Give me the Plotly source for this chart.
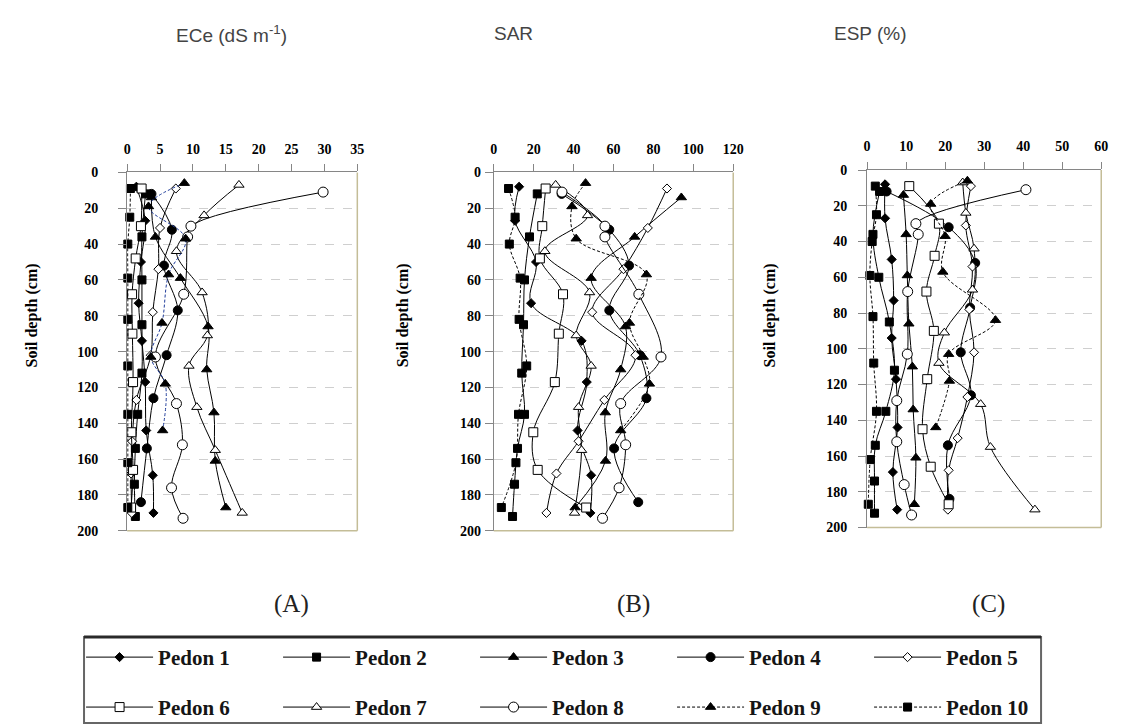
import plotly.graph_objects as go

# ---------------- data ----------------
pedon_names = ["Pedon 1", "Pedon 2", "Pedon 3", "Pedon 4", "Pedon 5",
               "Pedon 6", "Pedon 7", "Pedon 8", "Pedon 9", "Pedon 10"]

depth_p1 = [8, 27, 50, 73, 94, 117, 144, 169, 190]
depth_p2 = [12, 36, 60, 85, 112, 135, 154, 174, 192]
depth_p3 = [14, 36, 59, 86, 110, 134, 161, 187]
depth_p4 = [12, 32, 52, 77, 102, 126, 154, 184]
depth_p5 = [9, 31, 54, 78, 102, 127, 150, 168, 190]
depth_p6 = [9, 30, 48, 68, 90, 117, 145, 166, 187]
depth_p7 = [7, 24, 44, 67, 91, 108, 131, 155, 190]
depth_p8 = [11, 30, 36, 68, 103, 129, 152, 176, 193]
depth_p9 = [6, 19, 37, 57, 84, 103, 118, 144]
depth_p10 = [9, 25, 40, 59, 82, 108, 135, 162, 187]

ece_p1 = [1.4, 2.75, 2.1, 1.75, 2.25, 2.75, 2.9, 3.9, 4.0]
ece_p2 = [2.8, 2.25, 2.25, 2.25, 2.25, 1.6, 1.25, 1.1, 1.25]
ece_p3 = [3.7, 4.3, 8.1, 12.3, 12.1, 13.2, 13.4, 15.0]
ece_p4 = [3.7, 6.8, 5.6, 7.7, 6.0, 4.0, 3.0, 2.1]
ece_p5 = [7.4, 5.0, 4.75, 3.9, 3.6, 1.4, 0.75, 0.6, 0.7]
ece_p6 = [2.2, 2.1, 1.3, 0.75, 0.8, 0.9, 0.65, 0.9, 0.6]
ece_p7 = [17.0, 11.7, 7.5, 11.4, 12.2, 9.4, 10.6, 13.4, 17.5]
ece_p8 = [29.8, 9.7, 9.2, 8.6, 4.3, 7.5, 8.4, 6.75, 8.5]
ece_p9 = [8.7, 3.25, 8.9, 6.3, 5.3, 3.6, 5.8, 5.4]
ece_p10 = [0.5, 0.4, 0.1, 0.1, 0.1, 0.1, 0.1, 0.1, 0.1]

sar_p1 = [12.7, 10.7, 21.2, 18.7, 44, 46.6, 42, 48.8, 48.4]
sar_p2 = [21.8, 17.9, 15.4, 14.9, 14, 15.4, 11.9, 10.4, 9.4]
sar_p3 = [94, 70.6, 48.8, 66, 63.6, 55.9, 56, 40.8]
sar_p4 = [34, 57.9, 67.8, 57.9, 73.2, 76.5, 60.3, 72.4]
sar_p5 = [86.8, 77.2, 65, 49.3, 71, 55.4, 42.5, 31.4, 26.4]
sar_p6 = [26, 24.3, 23.1, 34.7, 32.6, 30.6, 19.8, 22, 46.3]
sar_p7 = [31, 47, 25.6, 48, 41.3, 48.8, 42.5, 44, 40.5]
sar_p8 = [34.2, 55.7, 55.7, 72.7, 83.8, 63.6, 66.1, 62.8, 54.5]
sar_p9 = [46, 39.2, 41.3, 76.5, 68, 74.9, 78, 63.6]
sar_p10 = [7.4, 10.7, 7.8, 13.2, 12.7, 16.5, 12.4, 11.1, 3.8]

esp_p1 = [4.6, 4.6, 6.3, 6.8, 6.3, 7.4, 7.8, 6.6, 7.7]
esp_p2 = [3.2, 1.5, 3.0, 5.7, 7.0, 4.8, 2.1, 1.9, 1.9]
esp_p3 = [9.3, 10, 10.3, 10.7, 11.6, 11.8, 12.5, 12.1]
esp_p4 = [5.0, 20.9, 27.7, 26.4, 24, 26.6, 20.7, 21.1]
esp_p5 = [26.6, 25.3, 27, 26.2, 27.4, 25.7, 23.2, 20.9, 20.7]
esp_p6 = [10.8, 18.4, 17.3, 15.2, 17.1, 15.4, 14.2, 16.3, 20.9]
esp_p7 = [24.5, 25.3, 27.4, 27, 19.8, 18.4, 29.1, 31.6, 43]
esp_p8 = [40.7, 12.5, 13.1, 10.4, 10.3, 7.6, 7.6, 9.5, 11.4]
esp_p9 = [25.7, 16.3, 20, 19.4, 32.9, 20.9, 21.1, 17.6]
esp_p10 = [2.1, 2.4, 1.3, 0.7, 1.5, 1.7, 2.4, 0.8, 0.3]

panel_titles = ["ECe (dS m<sup>-1</sup>)", "SAR", "ESP (%)"]
panel_labels = ["(A)", "(B)", "(C)"]
x_ranges = [[0, 35], [0, 120], [0, 60]]
x_dticks = [5, 20, 10]

depths = [depth_p1, depth_p2, depth_p3, depth_p4, depth_p5,
          depth_p6, depth_p7, depth_p8, depth_p9, depth_p10]
ece = [ece_p1, ece_p2, ece_p3, ece_p4, ece_p5, ece_p6, ece_p7, ece_p8, ece_p9, ece_p10]
sar = [sar_p1, sar_p2, sar_p3, sar_p4, sar_p5, sar_p6, sar_p7, sar_p8, sar_p9, sar_p10]
esp = [esp_p1, esp_p2, esp_p3, esp_p4, esp_p5, esp_p6, esp_p7, esp_p8, esp_p9, esp_p10]

# ---------------- styles ----------------
W, H = 1122, 727
SERIF = "Liberation Serif"
SANS = "Liberation Sans"

# (symbol, size, fill, dash)
styles = [
    ("diamond", 7, "black", "solid"),
    ("square", 8, "black", "solid"),
    ("triangle-up", 9, "black", "solid"),
    ("circle", 9, "black", "solid"),
    ("diamond", 7, "white", "solid"),
    ("square", 9, "white", "solid"),
    ("triangle-up", 9, "white", "solid"),
    ("circle", 10, "white", "solid"),
    ("triangle-up", 9, "black", "3px,2px"),
    ("square", 8, "black", "3px,2px"),
]

def px_x(p):
    return p / W

def px_y(p):
    return 1 - p / H

# plot areas in pixels: (left, right, top, bottom)
areas = [(116.7, 350.0, 160.7, 526.7),
         (488.3, 731.0, 160.7, 526.7),
         (866.7, 1104.0, 158.3, 523.3)]
ylab_standoff = [17, 1, 8]

fig = go.Figure()
panel_values = [ece, sar, esp]
axis_ids = [("x", "y"), ("x2", "y2"), ("x3", "y3")]

for pi, vals in enumerate(panel_values):
    xa, ya = axis_ids[pi]
    for k in range(10):
        sym, size, fill, dash = styles[k]
        color = "#1f3c9a" if (pi == 0 and k == 8) else "black"
        fig.add_trace(go.Scatter(
            x=vals[k], y=depths[k], xaxis=xa, yaxis=ya,
            mode="lines+markers",
            line=dict(color=color, width=1, shape="spline", smoothing=1.0, dash=dash),
            marker=dict(symbol=sym, size=size, color=fill,
                        line=dict(color="black", width=1)),
            name=pedon_names[k],
            showlegend=(pi == 1),
            legend="legend" if k < 5 else "legend2",
            cliponaxis=False,
            hoverinfo="skip",
        ))

layout = dict(
    width=W, height=H,
    margin=dict(l=0, r=0, t=0, b=0),
    paper_bgcolor="white", plot_bgcolor="white",
    showlegend=True,
)

for pi in range(3):
    l, r, t, b = areas[pi]
    sfx = "" if pi == 0 else str(pi + 1)
    layout["xaxis" + sfx] = dict(
        domain=[px_x(l), px_x(r)], anchor="y" + sfx, side="top",
        range=x_ranges[pi], dtick=x_dticks[pi], tick0=0,
        showline=True, linecolor="#868686", linewidth=1,
        ticks="outside", ticklen=7, tickcolor="#868686",
        showgrid=False, zeroline=False, ticklabelstandoff=5,
        tickfont=dict(family=SERIF, size=14, color="black", weight="bold"),
    )
    layout["yaxis" + sfx] = dict(
        domain=[px_y(b), px_y(t)], anchor="x" + sfx,
        range=[200, 0], dtick=20, tick0=0,
        showline=True, linecolor="#868686", linewidth=1,
        ticks="outside", ticklen=8, tickcolor="#868686",
        showgrid=True, gridcolor="#cfcfcf", griddash="dash", gridwidth=1,
        zeroline=False, ticklabelstandoff=ylab_standoff[pi],
        tickfont=dict(family=SERIF, size=14, color="black", weight="bold"),
    )

leg_common = dict(
    orientation="h", xanchor="left", yanchor="middle",
    font=dict(family=SERIF, size=21, color="#151515", weight="bold"),
    itemwidth=67, entrywidth=115, entrywidthmode="pixels",
    bgcolor="rgba(0,0,0,0)", borderwidth=0, traceorder="normal",
)
layout["legend"] = dict(leg_common, x=px_x(70), y=px_y(656))
layout["legend2"] = dict(leg_common, x=px_x(70), y=px_y(707))

annotations = []
title_x = [222, 508, 870]
for pi in range(3):
    annotations.append(dict(
        text=panel_titles[pi], x=px_x(title_x[pi]), y=px_y(19),
        xref="paper", yref="paper", showarrow=False,
        xanchor="center", yanchor="middle",
        font=dict(family=SANS, size=19, color="#444444")))
label_x = [283, 630, 990]
for pi in range(3):
    annotations.append(dict(
        text=panel_labels[pi], x=px_x(label_x[pi]), y=px_y(601),
        xref="paper", yref="paper", showarrow=False,
        xanchor="center", yanchor="middle",
        font=dict(family=SERIF, size=25, color="#222222")))
ytitle_x = [20, 396, 768]
for pi in range(3):
    annotations.append(dict(
        text="Soil depth (cm)", x=px_x(ytitle_x[pi]), y=px_y(307),
        xref="paper", yref="paper", showarrow=False, textangle=-90,
        xanchor="center", yanchor="middle",
        font=dict(family=SERIF, size=16, color="black", weight="bold")))
layout["annotations"] = annotations

shapes = []
for pi in range(3):
    sfx = "" if pi == 0 else str(pi + 1)
    xr = "x" + sfx + " domain"
    yr = "y" + sfx + " domain"
    # right and bottom frame in khaki
    shapes.append(dict(type="line", xref=xr, yref=yr,
                       x0=1, x1=1, y0=0, y1=1, line=dict(color="#c4bd97", width=1.5)))
    shapes.append(dict(type="line", xref=xr, yref=yr,
                       x0=0, x1=1, y0=0, y1=0, line=dict(color="#c4bd97", width=1.5)))
# legend box
shapes.append(dict(type="rect", xref="paper", yref="paper",
                   x0=px_x(73), x1=px_x(1043), y0=px_y(723), y1=px_y(635),
                   line=dict(color="#666666", width=2)))
shapes.append(dict(type="line", xref="paper", yref="paper",
                   x0=px_x(73), x1=px_x(1043), y0=px_y(635), y1=px_y(635),
                   line=dict(color="#2a2a2a", width=3)))
layout["shapes"] = shapes

fig.update_layout(**layout)
fig.write_html("out.html")
